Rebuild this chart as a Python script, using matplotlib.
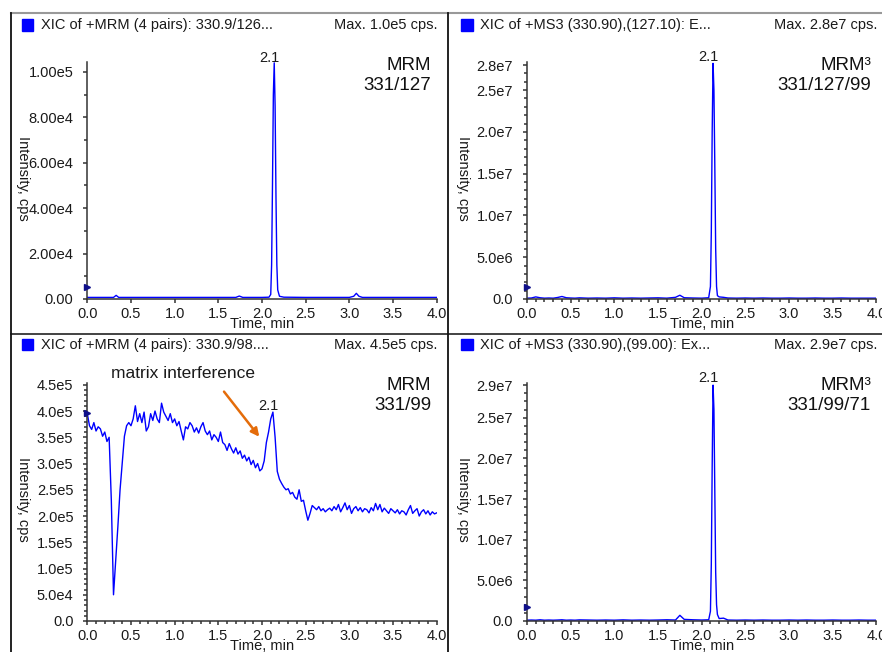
import numpy as np
import matplotlib.pyplot as plt
from matplotlib.lines import Line2D
from matplotlib.patches import Rectangle
from matplotlib.ticker import FixedLocator, MultipleLocator

plt.rcParams['font.family'] = ['Liberation Sans', 'DejaVu Sans']

# --- data ---
# panel 1: MRM 331/127
t1 = [0.00, 0.30, 0.33, 0.36, 0.50, 1.00, 1.50, 1.70, 1.74, 1.78,
      2.00, 2.08, 2.10, 2.11, 2.12, 2.13, 2.14, 2.15, 2.16, 2.17,
      2.18, 2.20, 2.25, 2.50, 3.00, 3.05, 3.08, 3.11, 3.15, 3.50, 4.00]
y1 = [0.7, 0.7, 1.6, 0.7, 0.7, 0.7, 0.7, 0.7, 1.3, 0.7,
      0.7, 0.8, 2.0, 15.0, 50.0, 90.0, 104.0, 85.0, 45.0, 15.0,
      4.0, 1.2, 0.8, 0.7, 0.7, 1.2, 2.5, 1.2, 0.7, 0.7, 0.7]  # x1e3 cps

# panel 2: MRM3 331/127/99
t2 = [0.00, 0.05, 0.10, 0.15, 0.20, 0.25, 0.30, 0.35, 0.40, 0.45, 0.50, 0.55, 0.60,
      0.70, 0.80, 0.90, 1.00, 1.10, 1.20, 1.30, 1.40, 1.50, 1.60, 1.70,
      1.75, 1.80, 1.90, 2.00,
      2.08, 2.10, 2.11, 2.12, 2.13, 2.14, 2.15, 2.16, 2.17, 2.18,
      2.20, 2.25,
      2.30, 2.40, 2.50, 2.60, 2.70, 2.80, 2.90, 3.00, 3.10, 3.20, 3.30, 3.40,
      3.50, 3.60, 3.70, 3.80, 3.90, 4.00]
y2 = [0.10, 0.12, 0.25, 0.15, 0.10, 0.12, 0.10, 0.18, 0.30, 0.15, 0.12, 0.10, 0.14,
      0.10, 0.12, 0.10, 0.14, 0.10, 0.12, 0.10, 0.12, 0.14, 0.10, 0.20,
      0.45, 0.15, 0.12, 0.10,
      0.15, 1.5, 8.0, 20.0, 28.2, 25.0, 16.0, 6.0, 1.5, 0.4,
      0.25, 0.20,
      0.12, 0.10, 0.12, 0.10, 0.12, 0.10, 0.10, 0.12, 0.10, 0.10, 0.12, 0.10,
      0.10, 0.12, 0.10, 0.10, 0.10, 0.10]  # x1e6 cps

# panel 3: MRM 331/99, sampled every 0.025 min
y3 = [3.95, 3.72, 3.65, 3.78, 3.62, 3.70, 3.66, 3.52, 3.60, 3.42,
      3.50, 2.30, 0.50, 1.15, 1.80, 2.50, 3.00, 3.52, 3.72, 3.78,
      3.72, 3.85, 4.10, 3.80, 3.95, 3.78, 3.98, 3.62, 3.70, 3.95,
      3.82, 4.00, 3.85, 3.78, 4.15, 3.98, 3.90, 3.82, 3.95, 3.78,
      3.85, 3.72, 3.80, 3.62, 3.45, 3.70, 3.66, 3.78, 3.72, 3.60,
      3.68, 3.58, 3.70, 3.78, 3.62, 3.55, 3.62, 3.45, 3.55, 3.50,
      3.42, 3.60, 3.40, 3.36, 3.25, 3.38, 3.28, 3.20, 3.30, 3.18,
      3.24, 3.10, 3.16, 3.05, 3.12, 2.98, 3.06, 2.92, 3.00, 2.86,
      2.90, 3.05, 3.40, 3.60, 3.85, 3.98, 3.50, 2.85, 2.70, 2.62,
      2.55, 2.50, 2.52, 2.42, 2.45, 2.36, 2.32, 2.50, 2.28, 2.30,
      2.10, 1.92, 2.05, 2.20, 2.16, 2.12, 2.18, 2.10, 2.14, 2.08,
      2.12, 2.15, 2.10, 2.18, 2.12, 2.22, 2.08, 2.16, 2.25, 2.12,
      2.20, 2.05, 2.14, 2.18, 2.10, 2.16, 2.08, 2.14, 2.12, 2.06,
      2.16, 2.10, 2.24, 2.12, 2.22, 2.08, 2.15, 2.10, 2.05, 2.14,
      2.10, 2.06, 2.12, 2.04, 2.10, 2.08, 2.02, 2.12, 2.20, 2.05,
      2.10, 2.14, 2.00, 2.08, 2.12, 2.04, 2.10, 2.02, 2.08, 2.04,
      2.06]  # x1e5 cps
t3 = np.arange(len(y3)) * 0.025

# panel 4: MRM3 331/99/71
t4 = [0.00, 0.05, 0.10, 0.15, 0.20, 0.25, 0.30, 0.35, 0.40, 0.45, 0.50, 0.55, 0.60,
      0.70, 0.80, 0.90, 1.00, 1.10, 1.20, 1.30, 1.40, 1.50, 1.60, 1.70,
      1.75, 1.80, 1.90, 2.00,
      2.08, 2.10, 2.11, 2.12, 2.13, 2.14, 2.15, 2.16, 2.17, 2.18,
      2.20, 2.25,
      2.30, 2.40, 2.50, 2.60, 2.70, 2.80, 2.90, 3.00, 3.10, 3.20, 3.30, 3.40,
      3.50, 3.60, 3.70, 3.80, 3.90, 4.00]
y4 = [0.10, 0.12, 0.10, 0.15, 0.10, 0.12, 0.10, 0.12, 0.15, 0.10, 0.12, 0.10, 0.14,
      0.12, 0.10, 0.12, 0.10, 0.14, 0.10, 0.12, 0.10, 0.12, 0.15, 0.12,
      0.70, 0.20, 0.15, 0.12,
      0.15, 1.2, 7.0, 19.0, 29.0, 26.0, 16.0, 6.0, 2.0, 0.8,
      0.30, 0.35,
      0.12, 0.10, 0.12, 0.10, 0.12, 0.10, 0.10, 0.12, 0.10, 0.12, 0.10, 0.10,
      0.12, 0.10, 0.10, 0.12, 0.10, 0.10]  # x1e6 cps

headers = ["XIC of +MRM (4 pairs): 330.9/126...",
           "XIC of +MS3 (330.90),(127.10): E...",
           "XIC of +MRM (4 pairs): 330.9/98....",
           "XIC of +MS3 (330.90),(99.00): Ex..."]
max_texts = ["Max. 1.0e5 cps.", "Max. 2.8e7 cps.", "Max. 4.5e5 cps.", "Max. 2.9e7 cps."]
modes = ["MRM", "MRM\u00b3", "MRM", "MRM\u00b3"]
transitions = ["331/127", "331/127/99", "331/99", "331/99/71"]
thresholds = [5.4e3, 1.47e6, 3.97e5, 1.7e6]

W, H = 882, 652
fig = plt.figure(figsize=(W / 100, H / 100), dpi=100)


def fx(x):
    return x / W


def fy(y):
    return 1 - y / H


def ftext(x, y, s, **kw):
    fig.text(fx(x), fy(y), s, **kw)


BLUE = '#0000FF'
AXC = '#333333'
TXT = '#1a1a1a'

# axes boxes in pixels: (x0, x1, ytop, ybottom)
boxes = [(87.3, 436.7, 61.7, 299), (527, 876.4, 61.7, 299),
         (87.3, 436.7, 382.7, 621), (527, 876.4, 382.7, 621)]
ymaxes = [1.045e5, 2.84e7, 4.54e5, 2.93e7]
ymajor = [[0, 2e4, 4e4, 6e4, 8e4, 1e5],
          [0, 5e6, 1e7, 1.5e7, 2e7, 2.5e7, 2.8e7],
          [0, 5e4, 1e5, 1.5e5, 2e5, 2.5e5, 3e5, 3.5e5, 4e5, 4.5e5],
          [0, 5e6, 1e7, 1.5e7, 2e7, 2.5e7, 2.9e7]]
ylabels = [["0.00", "2.00e4", "4.00e4", "6.00e4", "8.00e4", "1.00e5"],
           ["0.0", "5.0e6", "1.0e7", "1.5e7", "2.0e7", "2.5e7", "2.8e7"],
           ["0.0", "5.0e4", "1.0e5", "1.5e5", "2.0e5", "2.5e5", "3.0e5",
            "3.5e5", "4.0e5", "4.5e5"],
           ["0.0", "5.0e6", "1.0e7", "1.5e7", "2.0e7", "2.5e7", "2.9e7"]]
yminor = [1e4, 1e6, 1e4, 1e6]
series = [(t1, np.array(y1) * 1e3), (t2, np.array(y2) * 1e6),
          (t3, np.array(y3) * 1e5), (t4, np.array(y4) * 1e6)]

axes = []
for i, (x0, x1, yt, yb) in enumerate(boxes):
    ax = fig.add_axes([fx(x0), fy(yb), fx(x1 - x0), (yb - yt) / H])
    t, y = series[i]
    ax.plot(t, y, color=BLUE, lw=1.0)
    ax.plot([0], [thresholds[i]], marker='>', ms=5, color='#10108a',
            clip_on=False, zorder=5)
    ax.set_xlim(0, 4.0)
    ax.set_ylim(0, ymaxes[i])
    for s in ['top', 'right']:
        ax.spines[s].set_visible(False)
    for s in ['left', 'bottom']:
        ax.spines[s].set_color(AXC)
        ax.spines[s].set_linewidth(1.1)
    ax.set_xticks(np.arange(0, 4.01, 0.5))
    ax.set_xticklabels([f"{v:.1f}" for v in np.arange(0, 4.01, 0.5)])
    if i > 0:
        ax.xaxis.set_minor_locator(MultipleLocator(0.1))
    ax.yaxis.set_major_locator(FixedLocator(ymajor[i]))
    ax.set_yticklabels(ylabels[i])
    ax.yaxis.set_minor_locator(FixedLocator(
        np.arange(0, ymaxes[i], yminor[i])))
    ax.tick_params(which='major', direction='out', length=3, width=1.1,
                   color=AXC, labelsize=10.5, labelcolor=TXT)
    ax.tick_params(which='minor', direction='out', length=2, width=1.1,
                   color=AXC)
    ax.tick_params(axis='y', pad=7)
    ax.tick_params(axis='x', pad=3)
    ax.set_ylabel('Intensity, cps', rotation=-90, fontsize=10.5,
                  color=TXT, va='center', ha='center')
    ax.yaxis.set_label_coords(-0.184, 0.51)
    ax.set_xlabel('Time, min', fontsize=10.5, color=TXT, va='center')
    ax.xaxis.set_label_coords(0.5, -0.105)
    axes.append(ax)

# panel headers, labels
hx = [(21.7, 41, 437), (461, 480, 877), (21.7, 41, 437), (461, 480, 877)]
hy = [25, 25, 345, 345]
for i in range(4):
    sx, tx, rx = hx[i]
    fig.add_artist(Rectangle((fx(sx), fy(hy[i] + 5.5)), 11.5 / W, 11.5 / H,
                             color=BLUE, transform=fig.transFigure))
    ftext(tx, hy[i], headers[i], fontsize=10.5, color=TXT, va='center')
    ftext(rx, hy[i], max_texts[i], fontsize=10.5, color=TXT, va='center',
          ha='right')
    mx = 431 if i % 2 == 0 else 871
    ftext(mx, hy[i] + 40, modes[i], fontsize=13.5, color='#111111',
          va='center', ha='right')
    ftext(mx, hy[i] + 61, transitions[i], fontsize=13.5, color='#111111',
          va='center', ha='right')

# retention time labels
for (px, py) in [(269, 58), (708.5, 57), (268.5, 406), (708.5, 378)]:
    ftext(px, py, "2.1", fontsize=10.5, color=TXT, ha='center', va='center')

# matrix interference note on panel 3
axes[2].text(1.096, 4.72e5, 'matrix interference', fontsize=12.5, color=TXT,
             ha='center', va='center', clip_on=False)
axes[2].annotate('', xy=(1.969, 3.51e5), xytext=(1.565, 4.37e5),
                 annotation_clip=False,
                 arrowprops=dict(arrowstyle='-|>', color='#E46C0A', lw=1.8,
                                 mutation_scale=12, shrinkA=0, shrinkB=0))

# panel frame lines
fig.add_artist(Line2D([fx(11), fx(882)], [fy(13), fy(13)], color='#999999',
                      lw=1.5, transform=fig.transFigure))
fig.add_artist(Line2D([fx(11), fx(882)], [fy(334), fy(334)], color='#222222',
                      lw=1.2, transform=fig.transFigure))
fig.add_artist(Line2D([fx(11), fx(11)], [fy(13), fy(652)], color='#111111',
                      lw=1.3, transform=fig.transFigure))
fig.add_artist(Line2D([fx(448), fx(448)], [fy(13), fy(652)], color='#111111',
                      lw=1.3, transform=fig.transFigure))

fig.savefig('out.png', dpi=100)
